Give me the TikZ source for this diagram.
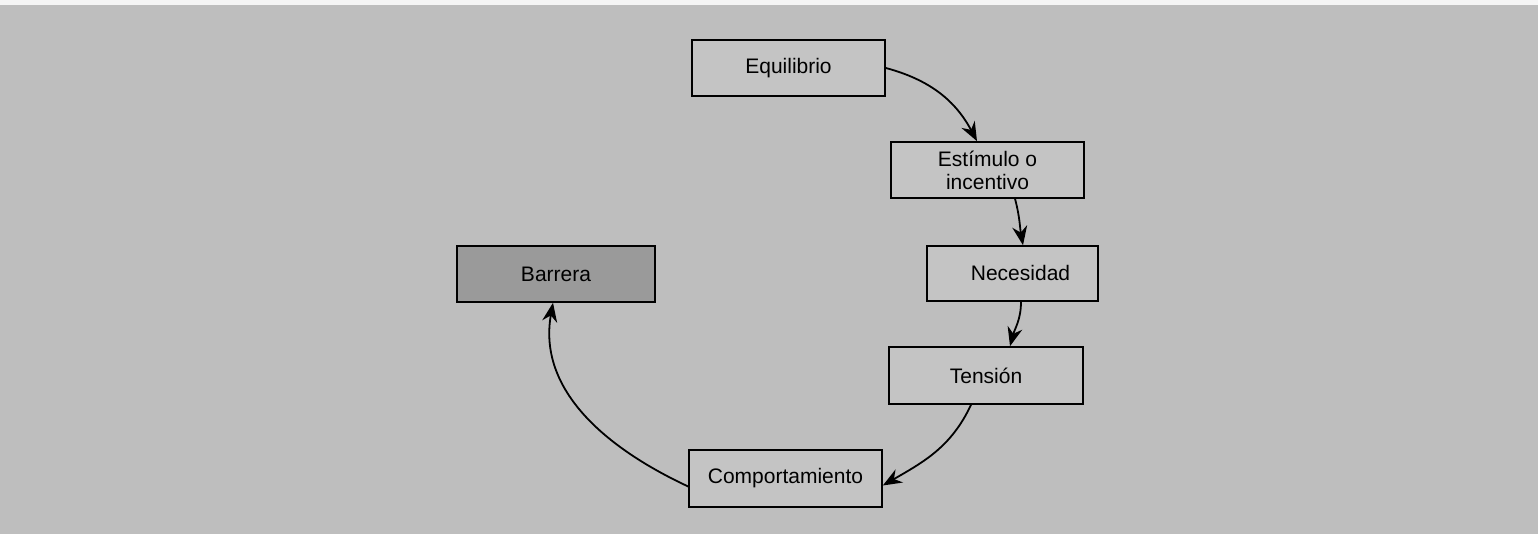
\documentclass[tikz,border=0pt]{standalone}
\usepackage{fontspec}
\setmainfont{Liberation Sans}
\usetikzlibrary{arrows.meta}
\definecolor{bg}{HTML}{BEBEBE}
\definecolor{boxfill}{HTML}{C4C4C4}
\definecolor{darkfill}{HTML}{9A9A9A}
\begin{document}
\begin{tikzpicture}[x=1pt,y=1pt,
  stepbox/.style={draw=black,line width=1.6pt,fill=boxfill,inner sep=0pt,
    font=\fontsize{21}{23}\selectfont,align=center,text=black},
  arr/.style={draw=black,line width=1.8pt,-{Stealth[length=19pt,width=15pt]}}]
\fill[bg] (0,0) rectangle (1538,534);
\fill[white!85!bg] (0,529) rectangle (1538,534);
\useasboundingbox (0,0) rectangle (1538,534);
\node[stepbox,minimum width=193pt,minimum height=56pt] (eq) at (788.5,466) {Equilibrio};
\node[stepbox,minimum width=193pt,minimum height=56pt] (es) at (987.5,364) {Estímulo o\\incentivo};
\node[stepbox,minimum width=171pt,minimum height=55pt] (ne) at (1012.5,260.5) {\hspace*{16pt}Necesidad};
\node[stepbox,minimum width=198pt,minimum height=56pt,fill=darkfill] (ba) at (556,260) {Barrera};
\node[stepbox,minimum width=194pt,minimum height=57pt] (te) at (986,158.5) {Tensión};
\node[stepbox,minimum width=193pt,minimum height=57pt] (co) at (785.5,55.5) {Comportamiento};
\draw[arr] (eq.east) to[out=-15,in=118] ([xshift=-10.5pt]es.north);
\draw[arr] ([xshift=27.5pt]es.south) to[out=-75,in=100] ([xshift=10.5pt]ne.north);
\draw[arr] ([xshift=8.5pt]ne.south) to[out=-90,in=75] ([xshift=24pt]te.north);
\draw[arr] ([xshift=-15pt]te.south) to[out=-115,in=30] ([yshift=-7pt]co.east);
\draw[arr] ([yshift=-8pt]co.west) to[out=155,in=-100] ([xshift=-3pt]ba.south);
\end{tikzpicture}
\end{document}
